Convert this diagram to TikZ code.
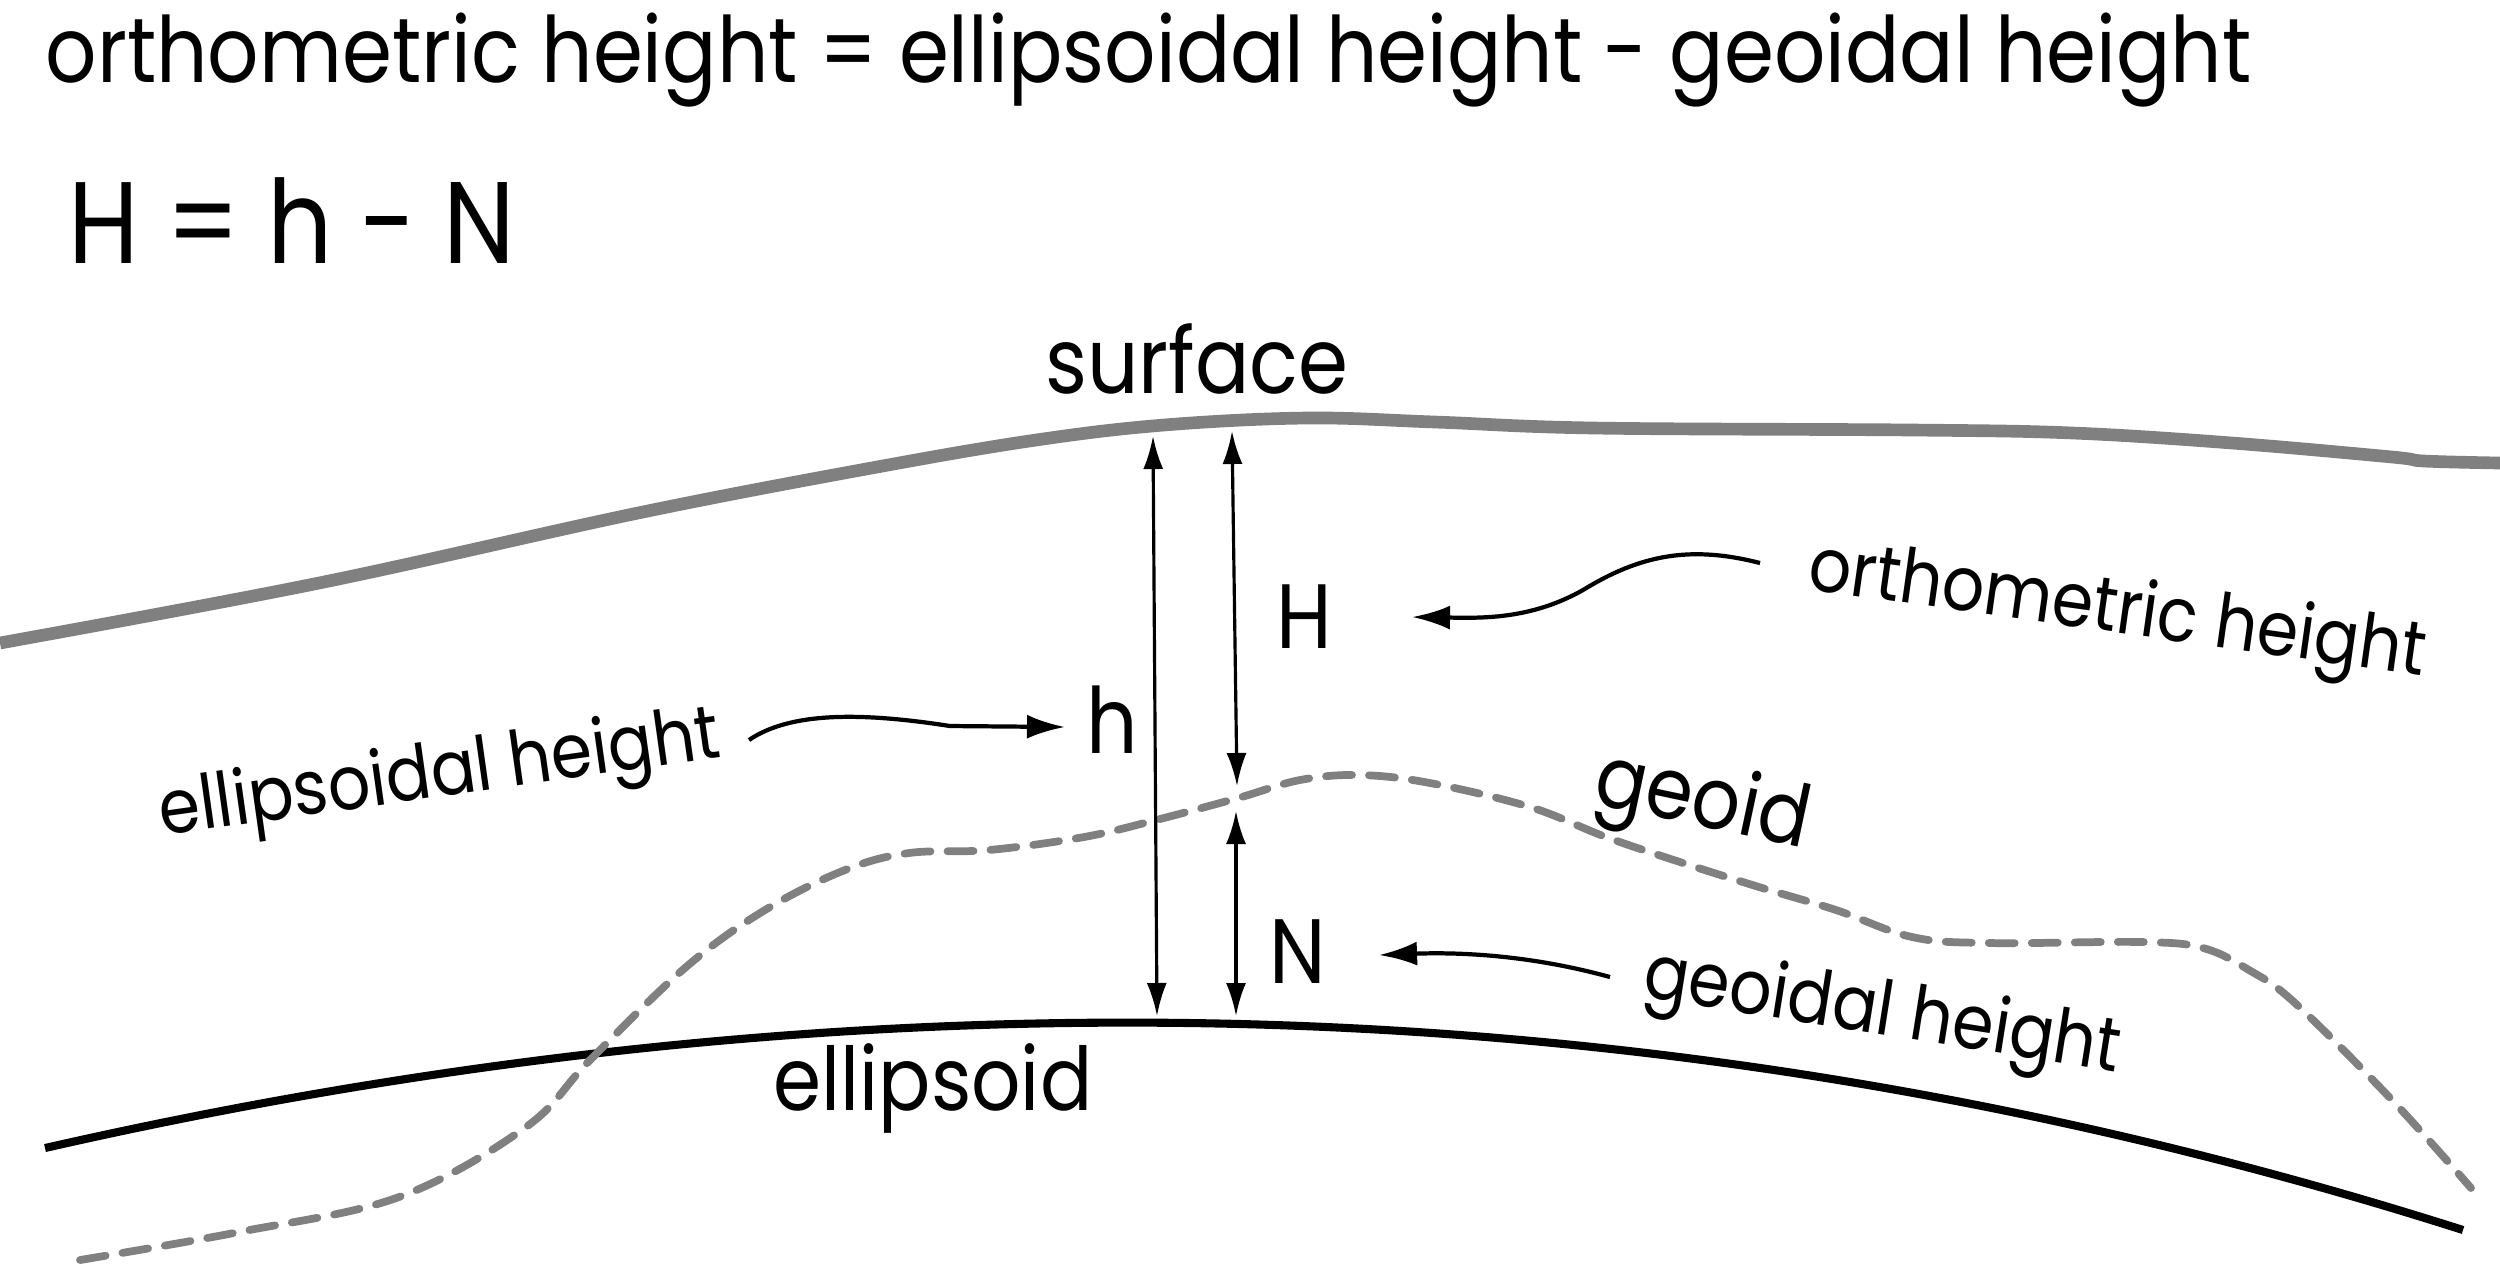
\documentclass[tikz,border=0pt]{standalone}
\usepackage{fontspec}
\setmainfont{Poppins}[FakeStretch=0.88]
\usepackage{tikz}
\usetikzlibrary{arrows.meta}
\definecolor{terraingray}{RGB}{128,128,128}

\begin{document}
\begin{tikzpicture}[x=0.01cm, y=-0.01cm,
  lbl/.style={inner sep=0pt, font=\fontsize{26}{30}\selectfont},
  tag/.style={inner sep=0pt, font=\fontsize{21.5}{26}\selectfont},
  big/.style={inner sep=0pt, font=\fontsize{33}{38}\selectfont},
  dim/.style={{Latex[length=3.3mm,width=2mm]}-{Latex[length=3.3mm,width=2mm]}, line width=0.9pt},
  ptr/.style={-{Latex[length=3.8mm,width=2.4mm]}, line width=1.2pt},
  surf/.style={terraingray, line width=3.6pt},
  ell/.style={black, line width=2.3pt},
  geo/.style={terraingray, line width=2.2pt, line cap=round, dash pattern=on 2.6mm off 1.7mm}]
\useasboundingbox (0,0) rectangle (2500,1265);
\node[lbl, anchor=base west] (title) at (45,82) {orthometric height = ellipsoidal height - geoidal height};
\node[big, anchor=base west] (formula) at (68,263) {H = h - N};
\draw[surf] plot[smooth, tension=0.6] coordinates {(0,643) (319,583) (638,513) (877,467) (1036,440) (1164,425)
  (1307,418) (1435,422) (1594,428) (1913,430) (2073,433) (2232,443) (2392,457) (2424,461) (2500,463)};
\draw[ell] (45,1148) .. controls (884,957) and (1690,984) .. (2463,1230);
\draw[geo] plot[smooth, tension=0.6] coordinates {(80,1260) (239,1232) (399,1197) (526,1127) (590,1060)
  (686,967) (765,910) (845,870) (909,853) (989,850) (1084,837) (1156,820) (1238,798) (1300,780) (1360,775)
  (1430,783) (1530,807) (1606,837) (1683,863) (1759,887) (1836,910) (1912,937) (1989,943) (2142,942)
  (2203,948) (2249,970) (2295,1003) (2392,1100) (2471,1188)};
\node[lbl, anchor=base] (surface) at (1197,393) {surface};
\node[lbl, anchor=base, font=\fontsize{25}{30}\selectfont] (ellipsoid) at (933,1110) {ellipsoid};
\node[lbl, rotate=-12, font=\fontsize{24.5}{30}\selectfont] (geoid) at (1702,805) {geoid};
\node[lbl, anchor=base] (hlab) at (1112,753) {h};
\node[lbl, anchor=base] (Hlab) at (1304,648) {H};
\node[lbl, anchor=base] (Nlab) at (1298,983) {N};
\node[tag, rotate=8] (ellh) at (440,778) {ellipsoidal height};
\node[tag, rotate=-8] (orth) at (2117,614) {orthometric height};
\node[tag, rotate=-9] (geoh) at (1882,1016) {geoidal height};
\coordinate (hTop) at (1153,436);
\coordinate (hBot) at (1157,1016);
\coordinate (HTop) at (1232,431);
\coordinate (HBot) at (1237,786);
\coordinate (NTop) at (1236,811);
\coordinate (NBot) at (1236,1016);
\coordinate (ellhTail) at (749,740);
\coordinate (ellhTip) at (1065,727);
\coordinate (orthTail) at (1760,563);
\coordinate (orthTip) at (1412,617);
\coordinate (geohTail) at (1610,977);
\coordinate (geohTip) at (1379,955);
\draw[dim] (hTop) -- (hBot);
\draw[dim] (HTop) -- (HBot);
\draw[dim] (NTop) -- (NBot);
\draw[ptr] (ellhTail) .. controls (790,712) and (860,712) .. (950,726) -- (ellhTip);
\draw[ptr] (orthTail) .. controls (1690,545) and (1640,555) .. (1583,590) .. controls (1530,620) and (1480,618) .. (orthTip);
\draw[ptr] (geohTail) .. controls (1530,955) and (1460,952) .. (geohTip);
\end{tikzpicture}
\end{document}
